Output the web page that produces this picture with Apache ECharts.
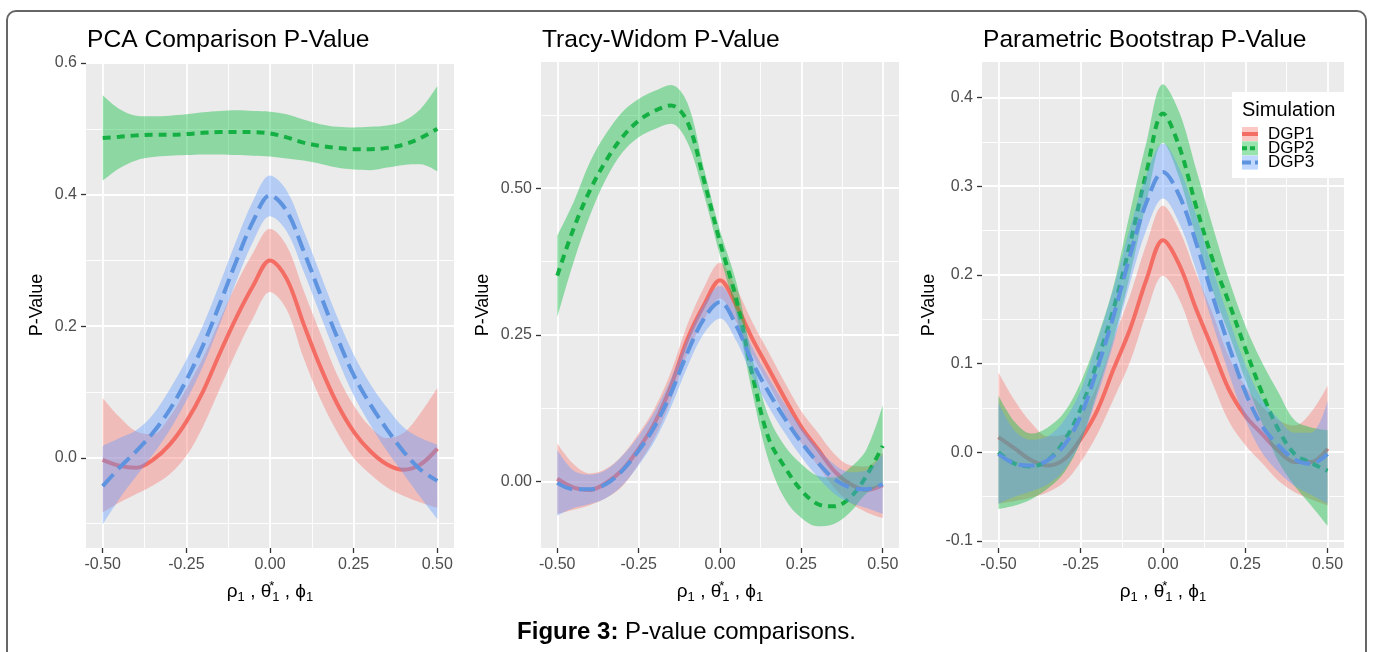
<!DOCTYPE html>
<html><head><meta charset="utf-8">
<script src="https://cdn.jsdelivr.net/npm/echarts@6/dist/echarts.min.js"></script>
<style>html,body{margin:0;padding:0;background:#fff}#c{width:1373px;height:652px}</style>
</head><body><div id="c"></div>
<script>
const FONT = "'Liberation Sans', Arial, Helvetica, sans-serif";

// ---------- data ----------
const xs = [-0.5,-0.45,-0.4,-0.35,-0.3,-0.25,-0.2,-0.15,-0.1,-0.05,0,0.05,0.1,0.15,0.2,0.25,0.3,0.35,0.4,0.45,0.5];
const xTicks = [-0.5,-0.25,0,0.25,0.5];
const xMinor = [-0.375,-0.125,0.125,0.375];
const groupNames = ['DGP1','DGP2','DGP3'];
const panelTitles = ['PCA Comparison P-Value','Tracy-Widom P-Value','Parametric Bootstrap P-Value'];

// Panel 1: PCA Comparison
const pcaTicks = [0,0.2,0.4,0.6];
const pcaMinor = [-0.1,0.1,0.3,0.5];
const pcaMid1 = [-0.003,-0.012,-0.015,-0.003,0.020,0.055,0.101,0.159,0.214,0.262,0.300,0.272,0.204,0.139,0.083,0.040,0.010,-0.010,-0.018,-0.010,0.014];
const pcaLo1  = [-0.083,-0.068,-0.055,-0.042,-0.025,0.003,0.048,0.105,0.162,0.213,0.252,0.225,0.152,0.090,0.040,0.000,-0.025,-0.045,-0.058,-0.068,-0.076];
const pcaHi1  = [0.091,0.062,0.040,0.036,0.062,0.105,0.152,0.210,0.265,0.312,0.348,0.322,0.255,0.190,0.127,0.080,0.047,0.030,0.038,0.068,0.106];
const pcaMid2 = [0.486,0.488,0.490,0.491,0.491,0.492,0.494,0.495,0.495,0.495,0.493,0.487,0.479,0.474,0.471,0.469,0.469,0.471,0.476,0.486,0.500];
const pcaLo2  = [0.421,0.440,0.452,0.457,0.459,0.460,0.461,0.461,0.460,0.459,0.458,0.455,0.452,0.447,0.441,0.438,0.437,0.441,0.445,0.446,0.435];
const pcaHi2  = [0.551,0.530,0.520,0.519,0.520,0.522,0.525,0.527,0.528,0.527,0.526,0.522,0.514,0.507,0.503,0.502,0.503,0.505,0.512,0.530,0.565];
const pcaMid3 = [-0.043,-0.015,0.010,0.038,0.073,0.118,0.171,0.234,0.300,0.360,0.399,0.375,0.315,0.249,0.184,0.126,0.081,0.043,0.009,-0.018,-0.035];
const pcaLo3  = [-0.101,-0.062,-0.028,0.005,0.042,0.087,0.140,0.203,0.269,0.329,0.367,0.344,0.284,0.218,0.153,0.095,0.050,0.010,-0.025,-0.060,-0.093];
const pcaHi3  = [0.018,0.030,0.042,0.066,0.104,0.149,0.202,0.265,0.331,0.391,0.429,0.406,0.346,0.280,0.215,0.157,0.112,0.076,0.046,0.030,0.020];

// Panel 2: Tracy-Widom
const twTicks = [0,0.25,0.5];
const twMinor = [0.125,0.375,0.625];
const twMid1 = [0.005,-0.010,-0.014,-0.002,0.020,0.056,0.101,0.164,0.243,0.300,0.343,0.300,0.243,0.192,0.141,0.093,0.056,0.019,-0.004,-0.014,-0.006];
const twLo1  = [-0.055,-0.048,-0.040,-0.028,-0.008,0.030,0.076,0.140,0.218,0.275,0.312,0.272,0.215,0.165,0.114,0.066,0.028,-0.010,-0.036,-0.052,-0.062];
const twHi1  = [0.065,0.030,0.014,0.022,0.045,0.082,0.126,0.188,0.268,0.330,0.373,0.330,0.271,0.220,0.168,0.120,0.084,0.048,0.028,0.026,0.050];
const twMid2 = [0.351,0.431,0.496,0.547,0.587,0.615,0.632,0.641,0.613,0.515,0.408,0.311,0.181,0.073,0.024,-0.015,-0.038,-0.042,-0.027,0.010,0.061];
const twLo2  = [0.280,0.374,0.453,0.516,0.561,0.587,0.601,0.610,0.578,0.490,0.385,0.285,0.150,0.035,-0.030,-0.062,-0.076,-0.072,-0.052,-0.020,-0.005];
const twHi2  = [0.419,0.476,0.544,0.593,0.630,0.652,0.666,0.676,0.645,0.535,0.428,0.340,0.210,0.110,0.060,0.030,0.010,0.007,0.024,0.055,0.130];
const twMid3 = [-0.002,-0.013,-0.013,-0.004,0.019,0.053,0.095,0.152,0.220,0.277,0.306,0.266,0.203,0.152,0.107,0.067,0.033,0.005,-0.010,-0.013,-0.004];
const twLo3  = [-0.058,-0.045,-0.038,-0.028,-0.006,0.028,0.070,0.128,0.196,0.252,0.278,0.240,0.178,0.127,0.082,0.042,0.008,-0.020,-0.036,-0.045,-0.055];
const twHi3  = [0.054,0.019,0.012,0.020,0.044,0.078,0.120,0.176,0.244,0.302,0.334,0.292,0.228,0.177,0.132,0.092,0.058,0.030,0.016,0.019,0.047];

// Panel 3: Parametric Bootstrap
const pbTicks = [-0.1,0,0.1,0.2,0.3,0.4];
const pbMinor = [-0.05,0.05,0.15,0.25,0.35];
const pbMid1 = [0.017,0.004,-0.009,-0.015,-0.008,0.015,0.047,0.094,0.139,0.195,0.239,0.211,0.162,0.117,0.071,0.041,0.021,0.002,-0.011,-0.011,0.004];
const pbLo1  = [-0.058,-0.055,-0.051,-0.045,-0.034,-0.011,0.020,0.060,0.102,0.157,0.199,0.172,0.122,0.078,0.035,0.008,-0.012,-0.032,-0.045,-0.053,-0.060];
const pbHi1  = [0.090,0.058,0.033,0.018,0.020,0.042,0.075,0.128,0.177,0.235,0.278,0.250,0.202,0.157,0.108,0.074,0.052,0.036,0.030,0.045,0.075];
const pbMid2 = [0.000,-0.013,-0.016,-0.009,0.013,0.049,0.102,0.162,0.235,0.316,0.382,0.344,0.278,0.218,0.169,0.117,0.068,0.026,-0.002,-0.012,-0.021];
const pbLo2  = [-0.064,-0.060,-0.053,-0.041,-0.023,0.012,0.068,0.128,0.200,0.282,0.349,0.309,0.243,0.183,0.134,0.082,0.034,-0.010,-0.038,-0.060,-0.083];
const pbHi2  = [0.064,0.034,0.021,0.028,0.045,0.079,0.128,0.188,0.271,0.350,0.415,0.383,0.320,0.256,0.195,0.143,0.102,0.068,0.036,0.028,0.025];
const pbMid3 = [-0.002,-0.013,-0.015,-0.009,0.008,0.041,0.094,0.154,0.222,0.282,0.316,0.289,0.237,0.177,0.120,0.068,0.030,0.008,-0.008,-0.013,-0.002];
const pbLo3  = [-0.058,-0.050,-0.044,-0.036,-0.020,0.012,0.063,0.123,0.191,0.251,0.286,0.258,0.206,0.146,0.089,0.037,0.000,-0.022,-0.038,-0.048,-0.058];
const pbHi3  = [0.056,0.024,0.014,0.018,0.036,0.070,0.125,0.185,0.253,0.313,0.348,0.320,0.268,0.208,0.151,0.099,0.060,0.038,0.022,0.022,0.058];

// ---------- styling ----------
const COLORS = ['#F46D64','#15B043','#5E93E0'];
const BANDS  = ['#F8766D','#00BA38','#619CFF'];
const DASHES = ['solid',[8,6],[16,7]];
const SMOOTH = 0.35;

const panels = [
  {grid:{left:86,top:62,width:368,height:486}, ymin:-0.137, ymax:0.6015, ticks:pcaTicks, minor:pcaMinor, dec:1, gap:40,
   groups:[[pcaMid1,pcaLo1,pcaHi1],[pcaMid2,pcaLo2,pcaHi2],[pcaMid3,pcaLo3,pcaHi3]]},
  {grid:{left:541,top:62,width:358,height:486}, ymin:-0.113, ymax:0.715, ticks:twTicks, minor:twMinor, dec:2, gap:49,
   groups:[[twMid1,twLo1,twHi1],[twMid2,twLo2,twHi2],[twMid3,twLo3,twHi3]]},
  {grid:{left:982,top:62,width:362,height:486}, ymin:-0.108, ymax:0.44, ticks:pbTicks, minor:pbMinor, dec:1, gap:44,
   groups:[[pbMid1,pbLo1,pbHi1],[pbMid2,pbLo2,pbHi2],[pbMid3,pbLo3,pbHi3]]}
];

// value first, x second, so that stacking acts on the value dimension
const vx = a => xs.map((x,i)=>[a[i],x]);
const vxDiff = (hi,lo) => xs.map((x,i)=>[+(hi[i]-lo[i]).toFixed(4),x]);

const grids=[], xAxes=[], yAxes=[], series=[], titles=[];
const xNameRich = {
  g:{fontSize:19,fontFamily:FONT,color:'#000',lineHeight:24},
  s:{fontSize:13,fontFamily:FONT,color:'#000',verticalAlign:'bottom',lineHeight:14},
  u:{fontSize:13,fontFamily:FONT,color:'#000',verticalAlign:'top',lineHeight:14,width:1}
};
panels.forEach((p,g)=>{
  grids.push(Object.assign({show:true,backgroundColor:'#EBEBEB',borderWidth:0}, p.grid));
  xAxes.push({gridIndex:g,type:'value',min:-0.55,max:0.55,
    name:'{g|ρ}{s|1}{g| , θ}{u|*}{s|1}{g| , ϕ}{s|1}',nameLocation:'middle',nameGap:32,
    nameTextStyle:{rich:xNameRich},
    axisLine:{show:false,onZero:false},
    axisTick:{show:true,length:5,customValues:xTicks,lineStyle:{color:'#333',width:1.3}},
    axisLabel:{customValues:xTicks,formatter:v=>v.toFixed(2),fontSize:16,color:'#4D4D4D',margin:9,fontFamily:FONT},
    splitLine:{show:true,lineStyle:{color:'#fff',width:1.8}}});
  xAxes.push({gridIndex:g,type:'value',min:-0.55,max:0.55,
    axisLine:{show:false,onZero:false},axisTick:{show:false,customValues:xMinor},axisLabel:{show:false},
    splitLine:{show:true,lineStyle:{color:'#fff',width:0.9}}});
  yAxes.push({gridIndex:g,type:'value',min:p.ymin,max:p.ymax,
    name:'P-Value',nameLocation:'middle',nameRotate:90,nameGap:p.gap,
    nameTextStyle:{fontSize:18,color:'#000',fontFamily:FONT},
    axisLine:{show:false,onZero:false},
    axisTick:{show:true,length:5,customValues:p.ticks,lineStyle:{color:'#333',width:1.3}},
    axisLabel:{customValues:p.ticks,formatter:v=>v.toFixed(p.dec),fontSize:16,color:'#4D4D4D',margin:9,fontFamily:FONT},
    splitLine:{show:true,lineStyle:{color:'#fff',width:1.8}}});
  yAxes.push({gridIndex:g,type:'value',min:p.ymin,max:p.ymax,
    axisLine:{show:false,onZero:false},axisTick:{show:false,customValues:p.minor},axisLabel:{show:false},
    splitLine:{show:true,lineStyle:{color:'#fff',width:0.9}}});
  titles.push({text:panelTitles[g],left:p.grid.left+1,top:28,padding:0,
    textStyle:{fontSize:24.6,fontWeight:'normal',color:'#000',fontFamily:FONT}});
  p.groups.forEach(([mid,lo,hi],k)=>{
    const base={type:'line',xAxisIndex:2*g,yAxisIndex:2*g,symbol:'none',showSymbol:false,smooth:SMOOTH,
      silent:true,animation:false,encode:{x:1,y:0}};
    series.push(Object.assign({},base,{name:groupNames[k]+' lower',data:vx(lo),stack:'b'+g+'_'+k,stackStrategy:'all',
      lineStyle:{opacity:0,width:0},z:2+2*k}));
    series.push(Object.assign({},base,{name:groupNames[k]+' band',data:vxDiff(hi,lo),stack:'b'+g+'_'+k,stackStrategy:'all',
      lineStyle:{opacity:0,width:0},areaStyle:{color:BANDS[k],opacity:0.4},z:2+2*k}));
    series.push(Object.assign({},base,{name:groupNames[k],data:vx(mid),
      lineStyle:{color:COLORS[k],width:4,type:DASHES[k],cap:'butt'},z:3+2*k}));
  });
});

titles.push({text:'{b|Figure 3:} P-value comparisons.',left:'center',top:620,padding:0,
  textStyle:{fontSize:24,fontWeight:'normal',color:'#000',fontFamily:FONT,
    rich:{b:{fontSize:24,fontWeight:'bold',color:'#000',fontFamily:FONT}}}});

// legend (drawn as graphic)
const legendEls = [
  {type:'rect',shape:{x:1232,y:92,width:112,height:86},style:{fill:'#fff'},z:20},
  {type:'text',x:1242,y:110,style:{text:'Simulation',fontSize:20,fontFamily:FONT,fill:'#000',textVerticalAlign:'middle'},z:21}
];
groupNames.forEach((n,k)=>{
  const cy = 134 + k*14.3;
  legendEls.push({type:'rect',shape:{x:1242,y:cy-7,width:16,height:14},style:{fill:BANDS[k],opacity:0.4},z:21});
  legendEls.push({type:'line',shape:{x1:1242,y1:cy,x2:1258,y2:cy},
    style:{stroke:COLORS[k],lineWidth:4,lineDash:k===0?null:(k===1?[5,3]:[9,4])},z:22});
  legendEls.push({type:'text',x:1268,y:cy,style:{text:n,fontSize:17,fontFamily:FONT,fill:'#000',textVerticalAlign:'middle'},z:22});
});

const chart = echarts.init(document.getElementById('c'),null,{renderer:'canvas'});
chart.setOption({
  backgroundColor:'#fff',
  animation:false,
  title:titles,
  grid:grids, xAxis:xAxes, yAxis:yAxes, series:series,
  graphic:[
    {type:'rect',shape:{x:7,y:11,width:1359,height:680,r:9},style:{fill:null,stroke:'#666',lineWidth:2},z:-1,silent:true}
  ].concat(legendEls)
});
</script></body></html>
